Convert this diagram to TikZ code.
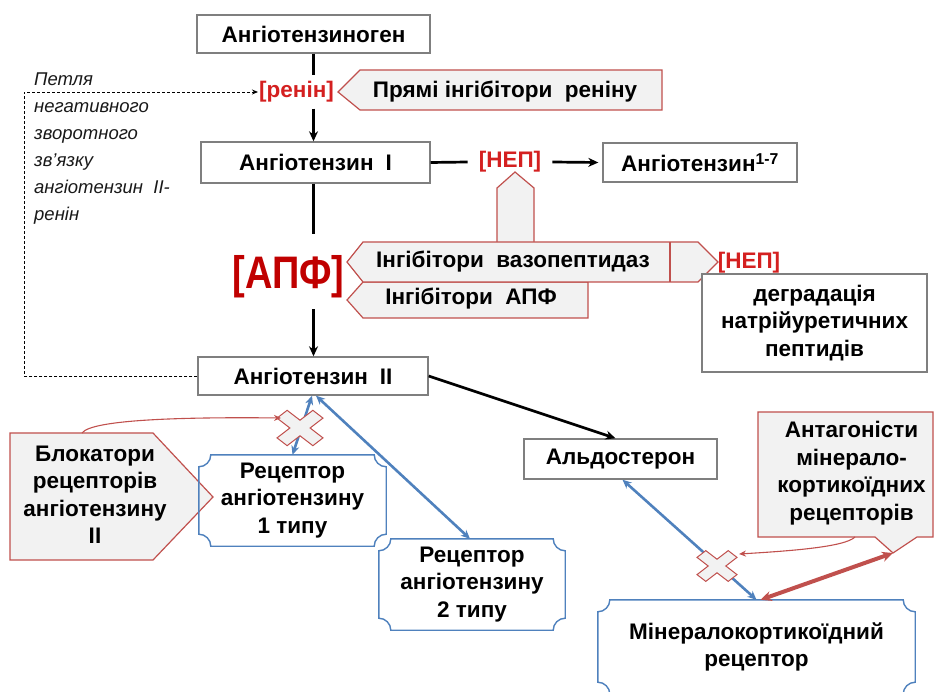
\documentclass[tikz,border=0pt]{standalone}
\usepackage{fontspec}
\setmainfont{Liberation Sans}
\usetikzlibrary{arrows.meta,calc}

\definecolor{boxgray}{HTML}{7F7F7F}
\definecolor{calloutred}{HTML}{C0504D}
\definecolor{calloutfill}{HTML}{F2F2F2}
\definecolor{enzred}{HTML}{D42020}
\definecolor{apfred}{HTML}{C00000}
\definecolor{recblue}{HTML}{4F81BD}

\tikzset{
  lbl/.style={font=\fontsize{22.5}{27.5}\selectfont\bfseries, align=center, inner sep=0pt},
  graybox/.style={lbl, draw=boxgray, line width=1.4pt, fill=white},
  enz/.style={font=\fontsize{22.5}{27}\selectfont\bfseries, text=enzred, inner xsep=1pt, inner ysep=6pt},
  callout/.style={draw=calloutred, fill=calloutfill, line width=1.2pt, line join=miter},
  flow/.style={draw=black, line width=2.7pt},
  flowarrow/.style={flow, -{Stealth[length=10pt,width=9pt]}},
  bluearrow/.style={draw=recblue, line width=2.6pt,
    {Stealth[length=9pt,width=8pt]}-{Stealth[length=9pt,width=8pt]}},
  redarrow/.style={draw=calloutred, line width=4pt,
    {Stealth[length=11pt,width=10pt]}-{Stealth[length=11pt,width=10pt]}},
  plaqueline/.style={draw=recblue, line width=1.4pt},
  thinred/.style={draw=calloutred, line width=1.1pt, -{Stealth[length=7pt,width=6pt]}},
  crossmark/.style={draw=calloutred, fill=calloutfill, line width=1pt},
  feedback/.style={draw=black, line width=0.9pt, dash pattern=on 3pt off 2pt,
    -{Stealth[length=6pt,width=5pt]}}
}

% frame with concave (plaque) corners around a named node
\newcommand\plaqueframe[2]{%
  \draw[plaqueline] ([xshift=#2]#1.north west) -- ([xshift=-#2]#1.north east)
    arc[start angle=180,end angle=270,radius=#2] -- ([yshift=#2]#1.south east)
    arc[start angle=90,end angle=180,radius=#2] -- ([xshift=#2]#1.south west)
    arc[start angle=0,end angle=90,radius=#2] -- ([yshift=-#2]#1.north west)
    arc[start angle=270,end angle=360,radius=#2] -- cycle;}

% blocking cross: name, centre, scale
\newcommand\blockmark[3]{%
  \coordinate (#1) at #2;
  \begin{scope}[shift={#2}, scale=#3, xscale=1.3, rotate=45]
    \filldraw[crossmark] (5.5,19.5) -- (5.5,5.5) -- (19.5,5.5) -- (19.5,-5.5) -- (5.5,-5.5) -- (5.5,-19.5)
      -- (-5.5,-19.5) -- (-5.5,-5.5) -- (-19.5,-5.5) -- (-19.5,5.5) -- (-5.5,5.5) -- (-5.5,19.5) -- cycle;
  \end{scope}}

\begin{document}
\begin{tikzpicture}[x=1pt,y=1pt]
\useasboundingbox (0,0) rectangle (936,691);

% ---- inhibitor callouts ----
\draw[callout] (338,599) -- (360,621) -- (662,621) -- (662,581) -- (360,581) -- cycle;
\node[lbl] (inhren) at (505,599) {Прямі інгібітори\ \ реніну};

\draw[callout] (497,449) -- (497,503) -- (515,519) -- (534,503) -- (534,449);
\draw[callout] (347,391) -- (363,409) -- (588,409) -- (588,373) -- (363,373) -- cycle;
\draw[callout] (347,429) -- (363,449) -- (698,449) -- (718,429) -- (698,409) -- (363,409) -- cycle;
\draw[callout] (670,449) -- (670,409);
\node[lbl] (inhvaso) at (513,429) {Інгібітори\ \ вазопептидаз};
\node[lbl] (inhapf) at (471,392) {Інгібітори\ \ АПФ};

\draw[callout] (10,258) -- (153,258) -- (213,194) -- (153,131) -- (10,131) -- cycle;
\coordinate (blktop) at (82,258);
\node[lbl] (blockers) at (95,196) {Блокатори\\рецепторів\\ангіотензину\\II};

\draw[callout] (758,279) -- (933,279) -- (933,154) -- (917,154) -- (893,138) -- (875,154) -- (758,154) -- cycle;
\coordinate (antip) at (893,138);
\coordinate (antbase) at (855,154);
\node[lbl] (antag) at (851.5,218) {Антагоністи\\мінерало-\\кортикоїдних\\рецепторів};

% ---- substances ----
\node[graybox, minimum width=233pt, minimum height=38pt] (agen) at (313.5,657) {Ангіотензиноген};
\node[graybox, minimum width=229pt, minimum height=41pt] (a1) at (315.5,528.5) {Ангіотензин\hspace{12pt}I};
\node[graybox, minimum width=194pt, minimum height=39pt] (a17) at (700,528.5) {Ангіотензин\textsuperscript{1-7}};
\node[graybox, minimum width=230pt, minimum height=38pt] (a2) at (313,315) {Ангіотензин\hspace{12pt}II};
\node[graybox, minimum width=225pt, minimum height=98pt] (degr) at (814.5,368) {деградація\\натрійуретичних\\пептидів};
\node[graybox, minimum width=193pt, minimum height=40pt] (aldo) at (620.5,232) {Альдостерон};

% ---- receptors ----
\node[lbl, minimum width=187pt, minimum height=91pt] (r1) at (292.5,190.5) {Рецептор\\ангіотензину\\1 типу};
\plaqueframe{r1}{12pt}
\node[lbl, minimum width=186pt, minimum height=91pt] (r2) at (472,106.5) {Рецептор\\ангіотензину\\2 типу};
\plaqueframe{r2}{12pt}
\node[lbl, minimum width=317pt, minimum height=94pt] (mr) at (756.5,44) {Мінералокортикоїдний\\рецептор};
\plaqueframe{mr}{12pt}

% ---- enzymes ----
\node[enz] (renin) at (296.5,599) {[ренін]};
\node[enz, inner xsep=11pt] (nep1) at (510,529) {[НЕП]};
\node[font=\fontsize{38}{40}\selectfont\bfseries, text=apfred, inner sep=0pt] (apf) at (288.5,414)
  {\scalebox{1}[1.2]{[АПФ]}};
\node[enz] (nep2) at (749,428) {[НЕП]};

% ---- feedback note ----
\node[font=\fontsize{18.5}{27}\selectfont\itshape, text=black!90, align=left, anchor=north west, inner sep=0pt]
  (loop) at (34,618) {Петля\\негативного\\зворотного\\зв'язку\\ангіотензин\ \ II-\\ренін};

% ---- cascade ----
\draw[flow] (agen.south) -- (agen.south |- renin.north);
\draw[flowarrow] (agen.south |- renin.south) -- (agen.south |- a1.north);
\draw[flow] (a1.east) -- (nep1.west);
\draw[flowarrow] (nep1.east) -- ([xshift=-4pt]a17.west);
\draw[flow] (agen.south |- a1.south) -- ([yshift=22pt]agen.south |- apf.north);
\draw[flowarrow] ([yshift=-11pt]agen.south |- apf.south) -- (agen.south |- a2.north);
\draw[flowarrow] (a2.east) -- ([xshift=-5pt]aldo.north);
\draw[feedback] (a2.west) -- ++(-173,0) |- (renin.west);

% ---- receptor binding ----
\draw[bluearrow] ([xshift=-1pt]a2.south) -- (r1.north);
\draw[bluearrow] ([xshift=3pt]a2.south) -- ([xshift=-2pt]r2.north);
\draw[bluearrow] ([xshift=2pt]aldo.south) -- (mr.north);
\draw[redarrow] ([xshift=4pt]mr.north) -- (antip);

% ---- blockade ----
\blockmark{cross1}{(300,263)}{1}
\blockmark{cross2}{(717,125)}{0.87}
\draw[thinred] (blktop) .. controls (92,272) and (190,274) .. ($(cross1)+(-19,10)$);
\draw[thinred] (antbase) .. controls (845,144) and (790,140) .. ($(cross2)+(22,12)$);
\end{tikzpicture}
\end{document}
